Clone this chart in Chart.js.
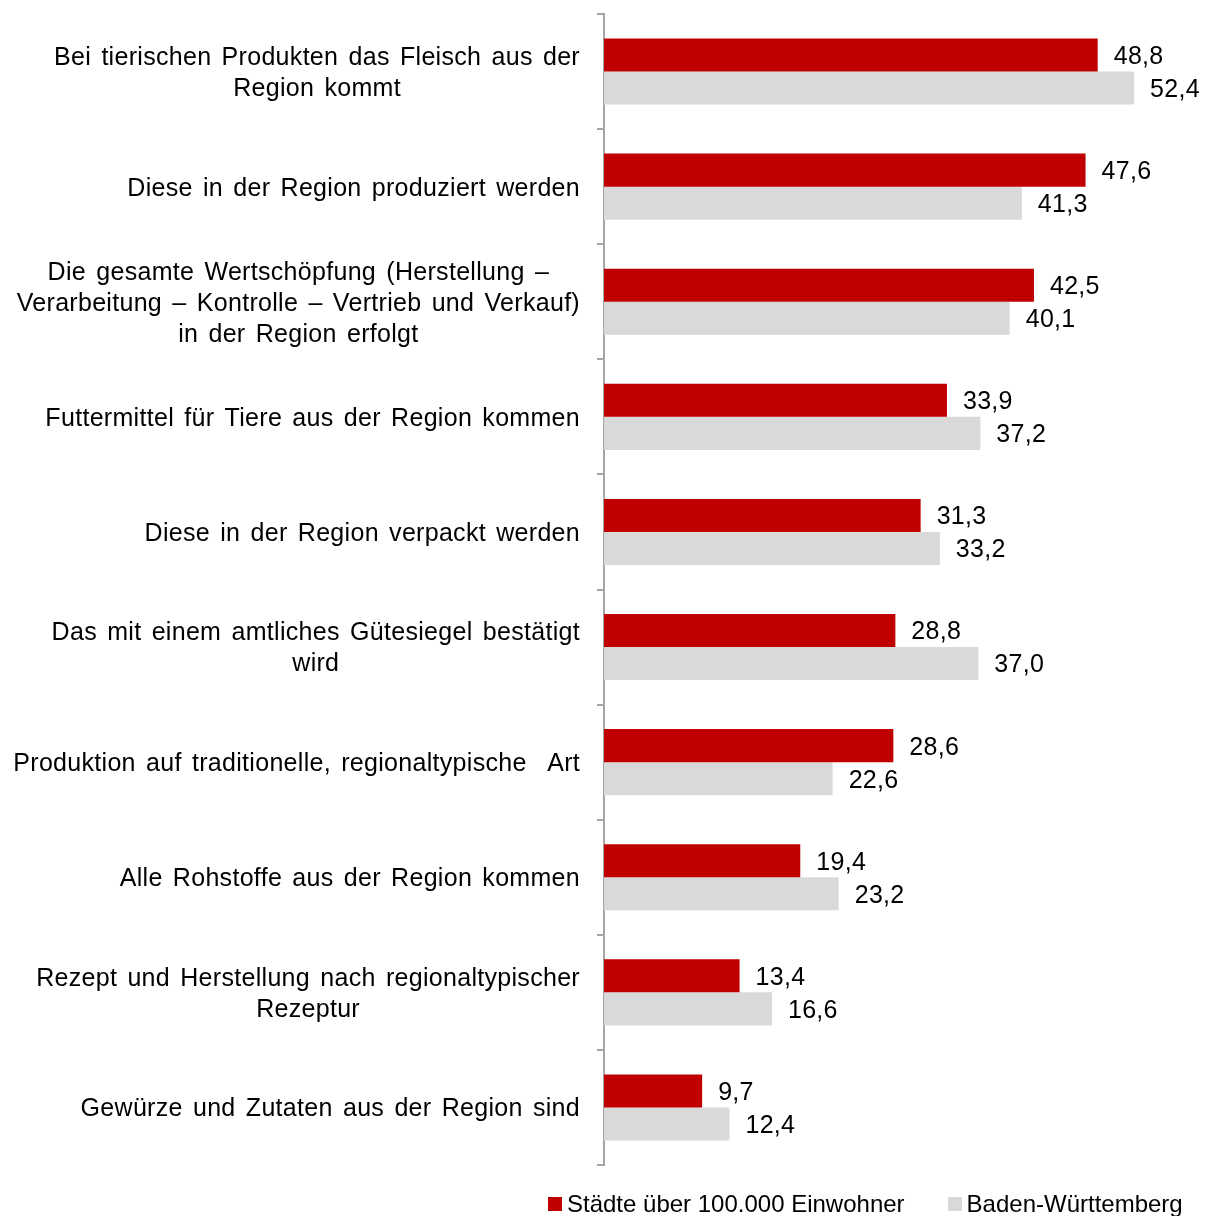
<!DOCTYPE html>
<html>
<head>
<meta charset="utf-8">
<script src="https://cdn.jsdelivr.net/npm/chart.js@4.4.1/dist/chart.umd.min.js"></script>
<style>
  html, body { margin: 0; padding: 0; background: #fff; }
  #wrap { position: relative; width: 1211px; height: 1216px; overflow: hidden; }
  #legend {
    position: absolute; top: 1190px; left: 548px;
    font: 24px "Liberation Sans", Arial, sans-serif; color: #000;
    display: flex; align-items: center; white-space: nowrap;
  }
  #legend .item { display: flex; align-items: center; }
  #legend .box { width: 14px; height: 14px; margin-right: 5px; }
</style>
</head>
<body>
<div id="wrap">
  <canvas id="chart" width="1211" height="1216"></canvas>
  <div id="legend"></div>
</div>
<script>
const labels = [
  ["Bei tierischen Produkten das Fleisch aus der", "Region kommt"],
  ["Diese in der Region produziert werden"],
  ["Die gesamte Wertschöpfung (Herstellung –", "Verarbeitung – Kontrolle – Vertrieb und Verkauf)", "in der Region erfolgt"],
  ["Futtermittel für Tiere aus der Region kommen"],
  ["Diese in der Region verpackt werden"],
  ["Das mit einem amtliches Gütesiegel bestätigt", "wird"],
  ["Produktion auf traditionelle, regionaltypische  Art"],
  ["Alle Rohstoffe aus der Region kommen"],
  ["Rezept und Herstellung nach regionaltypischer", "Rezeptur"],
  ["Gewürze und Zutaten aus der Region sind"]
];
const staedte = [48.8, 47.6, 42.5, 33.9, 31.3, 28.8, 28.6, 19.4, 13.4, 9.7];
const bw = [52.4, 41.3, 40.1, 37.2, 33.2, 37.0, 22.6, 23.2, 16.6, 12.4];
const seriesNames = ["Städte über 100.000 Einwohner", "Baden-Württemberg"];
const colors = ["#C00000", "#D9D9D9"];

const FONT = '25px "Liberation Sans", Arial, sans-serif';

function setText(ctx) {
  ctx.font = FONT;
  ctx.fillStyle = "#000";
  ctx.letterSpacing = "0.3px";
  ctx.wordSpacing = "3px";
}

// category labels: block right-aligned, lines centered inside the block
const catLabels = {
  id: "catLabels",
  afterDraw(chart) {
    const ctx = chart.ctx;
    const y = chart.scales.y;
    ctx.save();
    setText(ctx);
    ctx.textAlign = "center";
    ctx.textBaseline = "middle";
    labels.forEach((lines, i) => {
      const maxW = Math.max(...lines.map(l => ctx.measureText(l).width));
      const cx = 580 - maxW / 2;
      const cy = y.getPixelForValue(i) + 2;
      const lh = 31;
      lines.forEach((l, j) => {
        ctx.fillText(l, cx, cy + (j - (lines.length - 1) / 2) * lh);
      });
    });
    ctx.restore();
  }
};

// value labels to the right of each bar
const valueLabels = {
  id: "valueLabels",
  afterDatasetsDraw(chart) {
    const ctx = chart.ctx;
    ctx.save();
    setText(ctx);
    ctx.textAlign = "left";
    ctx.textBaseline = "middle";
    chart.data.datasets.forEach((ds, di) => {
      chart.getDatasetMeta(di).data.forEach((bar, i) => {
        ctx.fillText(ds.data[i].toFixed(1).replace(".", ","), bar.x + 16, bar.y + 2);
      });
    });
    ctx.restore();
  }
};

new Chart(document.getElementById("chart"), {
  type: "bar",
  data: {
    labels: labels.map(l => l.join(" ")),
    datasets: seriesNames.map((name, i) => ({
      label: name,
      data: i === 0 ? staedte : bw,
      backgroundColor: colors[i],
      barPercentage: 1,
      categoryPercentage: 0.574
    }))
  },
  options: {
    indexAxis: "y",
    responsive: false,
    animation: false,
    layout: { padding: { top: 14, bottom: 51, left: 0, right: 0 } },
    plugins: { legend: { display: false }, tooltip: { enabled: false } },
    scales: {
      x: { display: false, min: 0, max: 60 },
      y: {
        afterFit(scale) { scale.width = 604; },
        ticks: { display: false },
        grid: { drawOnChartArea: false, drawTicks: true, tickLength: 7, color: "#A6A6A6", lineWidth: 2, offset: true },
        border: { display: true, color: "#A6A6A6", width: 2 }
      }
    }
  },
  plugins: [catLabels, valueLabels]
});

const legend = document.getElementById("legend");
seriesNames.forEach((name, i) => {
  const item = document.createElement("div");
  item.className = "item";
  if (i > 0) item.style.marginLeft = "43px";
  item.innerHTML = `<span class="box" style="background:${colors[i]}"></span><span>${name}</span>`;
  legend.appendChild(item);
});
</script>
</body>
</html>
